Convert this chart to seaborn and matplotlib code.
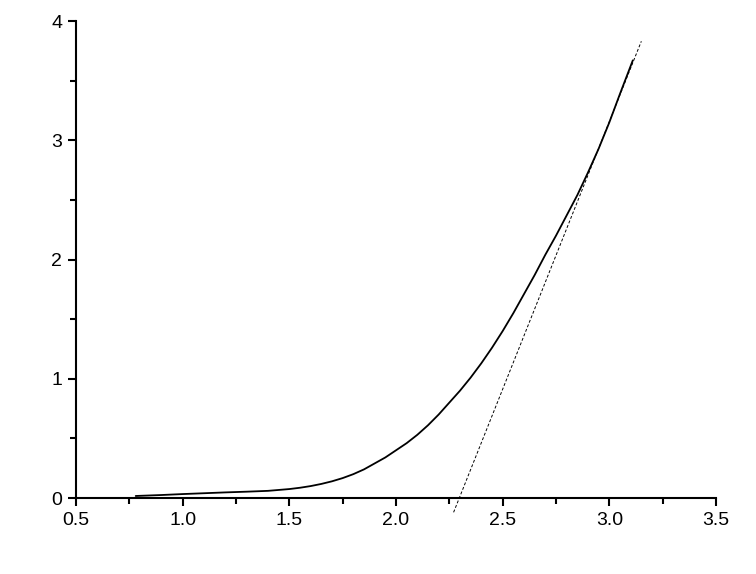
import matplotlib
matplotlib.use("Agg")
import matplotlib.pyplot as plt
import seaborn as sns
import pandas as pd
from matplotlib.ticker import MultipleLocator, FormatStrFormatter

curve_x = [0.78, 0.9, 1.0, 1.1, 1.2, 1.3, 1.4, 1.5, 1.55, 1.6, 1.65, 1.7, 1.75,
           1.8, 1.85, 1.9, 1.95, 2.0, 2.05, 2.1, 2.15, 2.2, 2.25, 2.3, 2.35,
           2.4, 2.45, 2.5, 2.55, 2.6, 2.65, 2.7, 2.75, 2.8, 2.85, 2.9, 2.95,
           3.0, 3.05, 3.11]
curve_y = [0.017, 0.025, 0.033, 0.040, 0.047, 0.053, 0.060, 0.075, 0.086, 0.10,
           0.118, 0.14, 0.167, 0.20, 0.24, 0.29, 0.34, 0.40, 0.46, 0.53, 0.61,
           0.70, 0.80, 0.90, 1.01, 1.13, 1.26, 1.40, 1.55, 1.71, 1.87, 2.04,
           2.20, 2.37, 2.54, 2.73, 2.93, 3.15, 3.39, 3.67]
tangent_x = [2.27, 3.15]
tangent_y = [-0.12, 3.83]

sns.set_style("ticks")
plt.rcParams['font.family'] = ['Liberation Sans', 'DejaVu Sans']

fig = plt.figure(figsize=(7.56, 5.74), dpi=100)
ax = fig.add_axes([0.1005, 0.1324, 0.8466, 0.831])

df_c = pd.DataFrame({"x": curve_x, "y": curve_y})
df_t = pd.DataFrame({"x": tangent_x, "y": tangent_y})
sns.lineplot(data=df_c, x="x", y="y", ax=ax, color="black", linewidth=1.3, sort=False)
sns.lineplot(data=df_t, x="x", y="y", ax=ax, color="black", linewidth=0.7,
             linestyle=(0, (3, 2)), sort=False)
ax.lines[-1].set_clip_on(False)

ax.set_xlim(0.5, 3.5)
ax.set_ylim(0, 4)
ax.xaxis.set_major_locator(MultipleLocator(0.5))
ax.xaxis.set_minor_locator(MultipleLocator(0.25))
ax.yaxis.set_major_locator(MultipleLocator(1))
ax.yaxis.set_minor_locator(MultipleLocator(0.5))
ax.xaxis.set_major_formatter(FormatStrFormatter('%.1f'))
ax.yaxis.set_major_formatter(FormatStrFormatter('%d'))
ax.set_xlabel("")
ax.set_ylabel("")
sns.despine(ax=ax)
for s in ["left", "bottom"]:
    ax.spines[s].set_linewidth(1.5)
    ax.spines[s].set_color("black")
ax.tick_params(which="major", direction="out", length=6, width=1.5, labelsize=14,
               colors="black", pad=4)
ax.tick_params(which="minor", direction="out", length=4, width=1.5, colors="black")
ax.patch.set_alpha(0)

fig.savefig("out.png", dpi=100, facecolor="white")
